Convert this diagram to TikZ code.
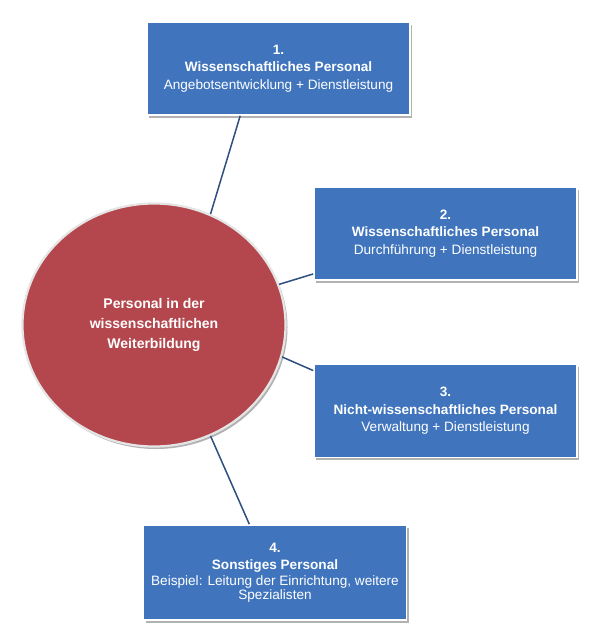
\documentclass[tikz,border=0pt]{standalone}
\usepackage{fontspec}
\setmainfont{Liberation Sans}
\usetikzlibrary{shapes.geometric,shadows}
\definecolor{boxblue}{HTML}{4075BD}
\definecolor{hubred}{HTML}{B4474E}
\definecolor{linkblue}{HTML}{2F4F7F}
\tikzset{
  area/.style={rectangle, fill=boxblue, draw=white, line width=1.6pt,
    minimum width=263pt, minimum height=93pt, inner sep=2pt, align=center,
    text=white, font=\fontsize{13.6}{17.5}\selectfont,
    drop shadow={shadow xshift=2pt, shadow yshift=-2.5pt, opacity=0.3, fill=black}},
  hub/.style={ellipse, fill=hubred, draw=white!90!black, line width=2.2pt,
    minimum width=263pt, minimum height=243pt, inner sep=0pt, align=center,
    text=white, font=\bfseries\fontsize{14}{20}\selectfont,
    drop shadow={shadow xshift=2pt, shadow yshift=-2.5pt, opacity=0.3, fill=black}},
  link/.style={draw=linkblue, line width=1.5pt}
}

\begin{document}
\begin{tikzpicture}[x=1pt, y=-1pt]
  \useasboundingbox[fill=white] (0,0) rectangle (606,637);

  \node[hub] (hub) at (154,325) {Personal in der\\wissenschaftlichen\\Weiterbildung};

  \node[area] (wiss1) at (278.5,68.5)
    {\textbf{1.}\\\textbf{Wissenschaftliches Personal}\\Angebotsentwicklung + Dienstleistung};
  \node[area] (wiss2) at (445.5,233.5)
    {\textbf{2.}\\\textbf{Wissenschaftliches Personal}\\Durchführung + Dienstleistung};
  \node[area] (nwiss) at (445.5,411)
    {\textbf{3.}\\\textbf{Nicht-wissenschaftliches Personal}\\Verwaltung + Dienstleistung};
  \node[area, minimum height=95pt] (sonst) at (275,572.5)
    {\textbf{4.}\\\textbf{Sonstiges Personal}\\[-2pt]Beispiel: Leitung der Einrichtung, weitere\\[-3pt]Spezialisten};

  % connectors
  \draw[link] (hub.63) -- (wiss1.231);
  \draw[link] (hub.18) -- (wiss2.197);
  \draw[link] (hub.-14) -- (nwiss.163);
  \draw[link] (hub.-63) -- (sonst.118);
\end{tikzpicture}
\end{document}
